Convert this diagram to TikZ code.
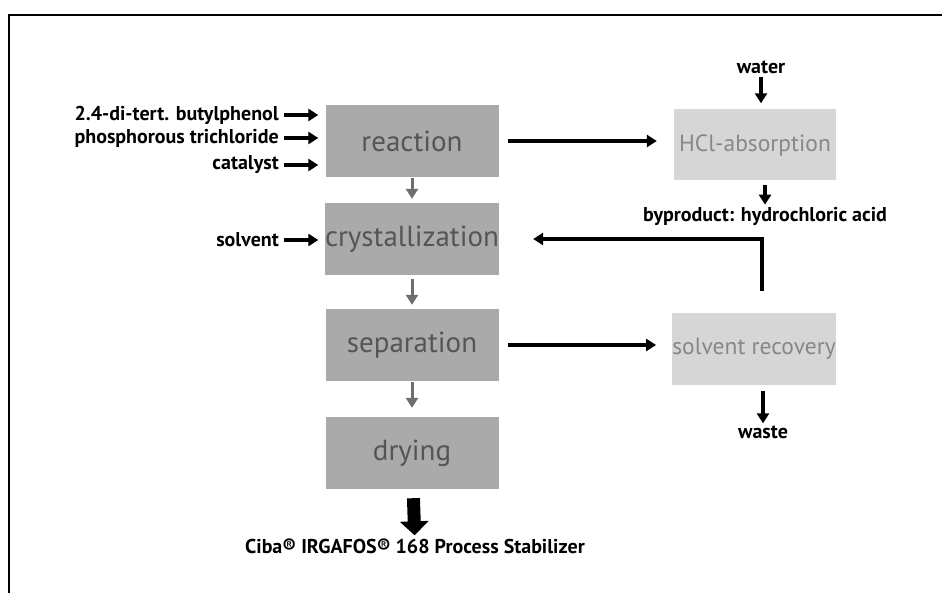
\documentclass[tikz,border=0pt]{standalone}
\usepackage{fontspec}
\setmainfont{PT Sans}
\usetikzlibrary{arrows.meta}
\definecolor{stepgray}{RGB}{170,170,170}
\definecolor{steptext}{RGB}{85,85,85}
\definecolor{sidegray}{RGB}{214,214,214}
\definecolor{sidetext}{RGB}{135,135,135}
\definecolor{flowgray}{RGB}{110,110,110}
\tikzset{
  darkbox/.style={fill=stepgray,text=steptext,minimum width=173pt,minimum height=72pt,inner sep=0pt,font=\fontsize{29}{31}\selectfont},
  lightbox/.style={fill=sidegray,text=sidetext,minimum width=162pt,minimum height=71pt,inner sep=0pt,font=\fontsize{23.5}{26}\selectfont},
  lbl/.style={font=\bfseries\fontsize{20}{22}\selectfont,inner sep=2pt},
  blk/.style={line width=3.5pt,-{Triangle[length=10pt,width=12pt]}},
  grayarr/.style={flowgray,line width=3pt,-{Triangle[length=10pt,width=12pt]},shorten <=1pt,shorten >=4pt},
  bigarrow/.style={line width=13pt,-{Triangle[length=14pt,width=28pt]}}
}
\begin{document}
\begin{tikzpicture}[x=1pt,y=-1pt]
  \useasboundingbox (0,0) rectangle (942,593);
  % frame
  \draw[line width=1.3pt] (9,593) -- (9,15) -- (942,15);
  % main line
  \node[darkbox] (reac) at (412,141) {reaction};
  \node[darkbox] (cryst) at (412,239) {crystallization};
  \node[darkbox] (sepa) at (412,345) {separation};
  \node[darkbox] (dry) at (412,453) {drying};
  \draw[grayarr] (reac) -- (cryst);
  \draw[grayarr,shorten <=4pt] (cryst) -- (sepa);
  \draw[grayarr,shorten >=9pt] (sepa) -- (dry);
  % side units
  \node[lightbox] (hcl) at (755,145) {HCl-absorption};
  \node[lightbox] (recov) at (754,349) {solvent recovery};
  % inputs
  \foreach \Y/\T/\N in {115/{2.4-di-tert. butylphenol}/phen,138/{phosphorous trichloride}/pcl,165/{catalyst}/cat,240/{solvent}/solv}
  {\node[lbl,anchor=east] (\N) at (281,\Y) {\T};
   \draw[blk,shorten <=3pt,shorten >=7pt] (\N) -- (\N -| reac.west);}
  \node[lbl] (water) at (761,67) {water};
  \draw[blk,shorten <=1pt,shorten >=6pt] (water) -- (hcl.north -| water);
  \node[lbl] (byp) at (765,216) {byproduct: hydrochloric acid};
  \draw[blk,shorten <=4pt] (hcl.south -| byp) -- (byp);
  \node[lbl] (waste) at (763,432) {waste};
  \draw[blk,shorten <=6pt] (recov.south -| waste) -- (waste);
  \node[lbl] (prod) at (415,546) {Ciba® IRGAFOS® 168 Process Stabilizer};
  \draw[bigarrow,shorten <=9pt,shorten >=1pt] (dry) -- (prod);
  % streams to the right
  \draw[blk,shorten <=9pt,shorten >=17pt] (reac.east) -- (hcl.west |- reac.east);
  \draw[blk,shorten <=9pt,shorten >=16pt] (sepa.east) -- (recov.west |- sepa.east);
  % solvent return
  \coordinate (ret) at (762,291);
  \draw[blk,shorten >=34pt] (ret) |- (cryst.east);
\end{tikzpicture}
\end{document}
